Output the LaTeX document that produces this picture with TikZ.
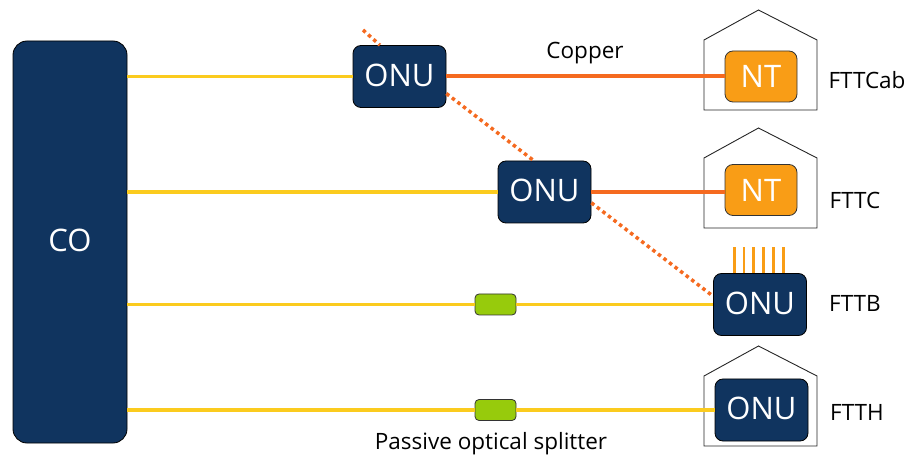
\documentclass[tikz,border=0pt]{standalone}
\usepackage{fontspec}
\setmainfont{Open Sans}
\usetikzlibrary{positioning}
\definecolor{navybox}{HTML}{10345F}
\definecolor{ntorange}{HTML}{F99D16}
\definecolor{splitgreen}{HTML}{97CB0C}
\definecolor{fiberyellow}{HTML}{FBCB1E}
\definecolor{copperorange}{HTML}{F56A20}
\tikzset{
  onu/.style={draw=black,line width=0.8pt,fill=navybox,rounded corners=8pt,minimum width=93pt,minimum height=62pt,inner sep=0pt,text=white,text depth=3pt,font=\fontsize{31}{31}\selectfont},
  nt/.style={draw=black!80,line width=0.8pt,fill=ntorange,rounded corners=8pt,minimum width=72pt,minimum height=51pt,inner sep=0pt,text=white,font=\fontsize{31}{31}\selectfont},
  splitter/.style={draw=black!80,line width=0.8pt,fill=splitgreen,rounded corners=4pt,minimum width=41pt,minimum height=21pt,inner sep=0pt},
  lbl/.style={inner sep=0pt,font=\fontsize{22.5}{22.5}\selectfont},
  fiber/.style={draw=fiberyellow,line width=3.5pt},
  copper/.style={draw=copperorange,line width=4pt},
  copperdot/.style={draw=copperorange,line width=3.5pt,dash pattern=on 3.5pt off 3.5pt},
  house/.style={draw=black!85,line width=0.9pt,line join=miter}
}
\begin{document}
\begin{tikzpicture}[x=1pt,y=-1pt,node distance=100pt,on grid]
   \useasboundingbox (0,0) rectangle (906,457);
   % houses
   \foreach \y in {10,128,346}
     \draw[house] (704,\y+30) -- (758.5,\y) -- (817,\y+30) -- (817,\y+100) -- (704,\y+100) -- cycle;
   \node[onu,minimum width=114pt,minimum height=402pt,rounded corners=14pt] (co) at (70,242) {CO};
   \node[onu] (onuA) at (399.5,76.5) {ONU};
   \node[onu] (onuB) [below right=115.5pt and 145pt of onuA] {ONU};
   \node[onu] (onuC) [below right=112.5pt and 215.5pt of onuB] {ONU};
   \node[onu] (onuD) [below right=105.5pt and 1.5pt of onuC] {ONU};
   \node[nt] (ntA) at (761,76.5) {NT};
   \node[nt] (ntB) [below=113.5pt of ntA] {NT};
   \node[splitter] (splitA) at (495.5,304.5) {};
   \node[splitter] (splitB) [below=105.5pt of splitA] {};
   \node[lbl] (copperlbl) at (585,53.5) {Copper};
   \node[lbl] (passive) at (491,444) {Passive optical splitter};
   \node[lbl] (fttcab) at (867,80) {FTTCab};
   \node[lbl] (fttc) at (855,200) {FTTC};
   \node[lbl] (fttb) at (855,303.5) {FTTB};
   \node[lbl] (ftth) at (857,412.5) {FTTH};
   \coordinate (dotend) at (363,30);
   \path[fiber]
    (co.east |- onuA) edge (onuA)
    (co.east |- onuB) edge (onuB)
    (co.east |- splitA) edge (splitA)
    (splitA) edge (onuC)
    (co.east |- splitB) edge (splitB)
    (splitB) edge (onuD.west |- splitB);
   \path[copper]
    (onuA) edge (ntA);
   \path[copper,line width=3.5pt]
    (onuB) edge (ntB.west |- onuB);
   \path[copperdot]
    (dotend) edge (onuA.122)
    (onuA.-20) edge (onuB.109)
    (onuB.-13) edge (onuC.170);
   % drop wires on top of the building unit
   \foreach \n/\x in {1/-25.7,2/-16,3/-6.3,4/3.7,5/13.3,6/23.3} {
     \coordinate (wire\n) at ([xshift=\x pt,yshift=26pt]onuC.north);
     \draw[draw=ntorange,line width=2.5pt] ([xshift=\x pt]onuC.north) -- (wire\n);
   }
\end{tikzpicture}
\end{document}
